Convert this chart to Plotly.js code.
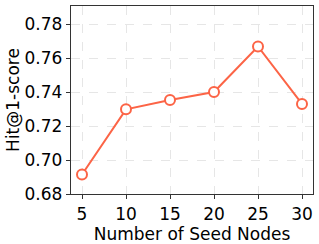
<!DOCTYPE html>
<html><head><meta charset="utf-8">
<script src="https://cdn.plot.ly/plotly-3.0.1.min.js"></script>
<style>html,body{margin:0;padding:0;background:#fff}#c{width:319px;height:244px}</style>
</head><body><div id="c"></div>
<script>
const seedNodes = [5, 10, 15, 20, 25, 30];
const hitScores = [0.6915, 0.7298, 0.7353, 0.7400, 0.7668, 0.7330];
const xTicks = [5, 10, 15, 20, 25, 30];
const yTicks = [0.68, 0.70, 0.72, 0.74, 0.76, 0.78];

const trace = {
  x: seedNodes, y: hitScores, type: 'scatter', mode: 'lines+markers',
  line: {color: '#fc6446', width: 2},
  marker: {size: 10, color: '#ffffff', line: {color: '#fc6446', width: 2}},
  cliponaxis: false
};
const axisCommon = {
  showline: true, linecolor: '#333', linewidth: 1.2, mirror: true,
  ticks: 'outside', ticklen: 4, tickcolor: '#333', tickwidth: 1,
  showgrid: true, gridcolor: '#e6e6e6', griddash: 'dash', gridwidth: 1,
  zeroline: false,
  tickfont: {family: 'DejaVu Sans', size: 17, color: '#000'}
};
const layout = {
  width: 319, height: 244,
  margin: {l: 71, r: 6, t: 6, b: 50},
  paper_bgcolor: '#fff', plot_bgcolor: '#fff',
  showlegend: false,
  xaxis: Object.assign({}, axisCommon, {
    range: [3.75, 31.25], tickvals: xTicks, ticktext: xTicks.map(String),
    title: {text: 'Number of Seed Nodes', font: {family: 'DejaVu Sans', size: 17, color: '#000'}, standoff: 0}
  }),
  yaxis: Object.assign({}, axisCommon, {
    range: [0.68, 0.7906], tickvals: yTicks, ticktext: yTicks.map(v => v.toFixed(2)),
    title: {text: 'Hit@1-score', font: {family: 'DejaVu Sans', size: 17, color: '#000'}, standoff: 0}
  })
};
Plotly.newPlot('c', [trace], layout, {staticPlot: true, displayModeBar: false});
</script></body></html>
